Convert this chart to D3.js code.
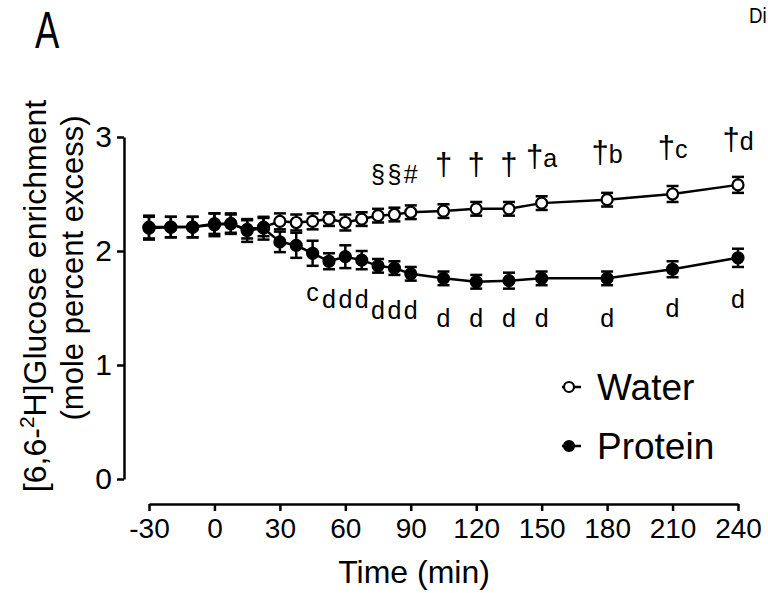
<!DOCTYPE html>
<html>
<head>
<meta charset="utf-8">
<script src="https://cdn.jsdelivr.net/npm/d3@7"></script>
<style>
  body { margin: 0; background: #fff; }
  svg { display: block; font-family: "Liberation Sans", Arial, sans-serif; }
</style>
</head>
<body>
<div id="chart"></div>
<script>
// [6,6-2H]Glucose enrichment, water vs protein

const times = [-30, -20, -10, 0, 7.5, 15, 22.5, 30, 37.5, 45, 52.5, 60, 67.5, 75, 82.5, 90, 105, 120, 135, 150, 180, 210, 240];
const water = [2.21, 2.21, 2.21, 2.23, 2.24, 2.19, 2.21, 2.26, 2.25, 2.26, 2.28, 2.25, 2.28, 2.31, 2.32, 2.34, 2.35, 2.37, 2.37, 2.42, 2.45, 2.50, 2.58];
const waterSem = [0.10, 0.09, 0.09, 0.10, 0.09, 0.08, 0.08, 0.07, 0.07, 0.07, 0.06, 0.07, 0.06, 0.06, 0.06, 0.06, 0.06, 0.06, 0.06, 0.06, 0.06, 0.07, 0.07];
const protein = [2.20, 2.21, 2.21, 2.24, 2.24, 2.18, 2.20, 2.08, 2.05, 1.98, 1.91, 1.95, 1.92, 1.87, 1.85, 1.80, 1.76, 1.73, 1.74, 1.76, 1.76, 1.84, 1.94];
const proteinSem = [0.10, 0.09, 0.09, 0.09, 0.08, 0.10, 0.10, 0.09, 0.11, 0.11, 0.07, 0.10, 0.08, 0.06, 0.06, 0.06, 0.06, 0.06, 0.07, 0.06, 0.06, 0.07, 0.08];

const xTicks = [-30, 0, 30, 60, 90, 120, 150, 180, 210, 240];
const yTicks = [0, 1, 2, 3];

// significance marks above water / below protein (time, symbol, letter, level in y units)
const waterMarkTimes = [75, 82.5, 90, 105, 120, 135, 150, 180, 210, 240];
const waterMarkSym = ["§", "§", "#", "†", "†", "†", "†", "†", "†", "†"];
const waterMarkLetter = ["", "", "", "", "", "", "a", "b", "c", "d"];
const waterMarkLevel = [2.60, 2.60, 2.60, 2.67, 2.67, 2.67, 2.74, 2.77, 2.82, 2.89];
const proteinMarkTimes = [45, 52.5, 60, 67.5, 75, 82.5, 90, 105, 120, 135, 150, 180, 210, 240];
const proteinMarkText = ["c", "d", "d", "d", "d", "d", "d", "d", "d", "d", "d", "d", "d", "d"];
const proteinMarkLevel = [1.56, 1.50, 1.50, 1.50, 1.40, 1.40, 1.40, 1.33, 1.33, 1.33, 1.33, 1.33, 1.42, 1.50];

const W = 768, H = 593;
const svg = d3.select("#chart").append("svg").attr("width", W).attr("height", H);

const x = d3.scaleLinear().domain([-30, 240]).range([149, 738]);
const y = d3.scaleLinear().domain([0, 3]).range([479, 137]);

// panel letter and neighbour label at the right edge
svg.append("text")
  .attr("transform", "translate(35,48) scale(0.7,1)")
  .attr("font-size", "52px")
  .text("A");
svg.append("text")
  .attr("transform", "translate(749,23) scale(0.85,1)")
  .attr("font-size", "22px")
  .text("Di");

// axes
const xAxis = svg.append("g")
  .attr("transform", "translate(0,504)")
  .call(d3.axisBottom(x).tickValues(xTicks).tickFormat(d => String(d))
    .tickSize(7).tickPadding(7).tickSizeOuter(0));
const yAxis = svg.append("g")
  .attr("transform", "translate(124,0)")
  .call(d3.axisLeft(y).tickValues(yTicks).tickFormat(d => String(d))
    .tickSize(7).tickPadding(5).tickSizeOuter(0));

[xAxis, yAxis].forEach(a => {
  a.select(".domain").attr("stroke", "#000").attr("stroke-width", 2.5);
  a.selectAll(".tick line").attr("stroke", "#000").attr("stroke-width", 2.5);
  a.selectAll(".tick text").attr("fill", "#000").attr("font-size", "28px")
    .attr("font-family", "Liberation Sans, Arial, sans-serif");
});
yAxis.selectAll(".tick text").attr("font-size", "30px");

svg.append("text")
  .attr("x", 414).attr("y", 583)
  .attr("text-anchor", "middle")
  .attr("font-size", "32px")
  .text("Time (min)");

const yl = svg.append("text")
  .attr("transform", "translate(46,296) rotate(-90)")
  .attr("text-anchor", "middle")
  .attr("font-size", "32px");
yl.append("tspan").attr("x", 0).attr("y", 0).text("[6,6-");
yl.append("tspan").attr("dy", -12).attr("font-size", "21px").text("2");
yl.append("tspan").attr("dy", 12).text("H]Glucose enrichment");
svg.append("text")
  .attr("transform", "translate(83,268) rotate(-90)")
  .attr("text-anchor", "middle")
  .attr("font-size", "31px")
  .text("(mole percent excess)");

// series
function drawSeries(vals, sems, filled) {
  const g = svg.append("g");
  const pts = times.map((t, i) => ({ t: t, v: vals[i], e: sems[i] }));

  g.append("path")
    .datum(pts)
    .attr("fill", "none")
    .attr("stroke", "#000")
    .attr("stroke-width", 2.5)
    .attr("d", d3.line().x(d => x(d.t)).y(d => y(d.v)));

  const eb = g.selectAll(".eb").data(pts).enter().append("g").attr("class", "eb");
  eb.append("line")
    .attr("x1", d => x(d.t)).attr("x2", d => x(d.t))
    .attr("y1", d => y(d.v - d.e)).attr("y2", d => y(d.v + d.e))
    .attr("stroke", "#000").attr("stroke-width", 2.5);
  [1, -1].forEach(s => {
    eb.append("line")
      .attr("x1", d => x(d.t) - 6).attr("x2", d => x(d.t) + 6)
      .attr("y1", d => y(d.v + s * d.e)).attr("y2", d => y(d.v + s * d.e))
      .attr("stroke", "#000").attr("stroke-width", 2.5);
  });

  g.selectAll("circle").data(pts).enter().append("circle")
    .attr("cx", d => x(d.t)).attr("cy", d => y(d.v))
    .attr("r", 5.5)
    .attr("fill", filled ? "#000" : "#fff")
    .attr("stroke", "#000").attr("stroke-width", 2.2);
}

drawSeries(water, waterSem, false);
drawSeries(protein, proteinSem, true);

// annotations
const wm = svg.append("g").selectAll("text").data(waterMarkTimes).enter().append("text")
  .attr("x", d => x(d))
  .attr("y", (d, i) => y(waterMarkLevel[i]))
  .attr("text-anchor", "middle")
  .attr("font-size", "25px");
wm.append("tspan")
  .attr("font-size", (d, i) => waterMarkSym[i] === "†" ? "31px" : "25px")
  .text((d, i) => waterMarkSym[i]);
wm.append("tspan").text((d, i) => waterMarkLetter[i]);

svg.append("g").selectAll("text").data(proteinMarkTimes).enter().append("text")
  .attr("x", d => x(d))
  .attr("y", (d, i) => y(proteinMarkLevel[i]))
  .attr("text-anchor", "middle")
  .attr("font-size", "25px")
  .text((d, i) => proteinMarkText[i]);

// legend
const legendNames = ["Water", "Protein"];
const legendY = [387, 446];
const lg = svg.append("g");
legendNames.forEach((name, i) => {
  lg.append("line")
    .attr("x1", 562).attr("x2", 581)
    .attr("y1", legendY[i]).attr("y2", legendY[i])
    .attr("stroke", "#000").attr("stroke-width", 2.5);
  lg.append("circle")
    .attr("cx", 569).attr("cy", legendY[i]).attr("r", 5)
    .attr("fill", i === 0 ? "#fff" : "#000")
    .attr("stroke", "#000").attr("stroke-width", 2.2);
  lg.append("text")
    .attr("x", 597).attr("y", legendY[i] + 13)
    .attr("font-size", "37px")
    .text(name);
});
</script>
</body>
</html>
